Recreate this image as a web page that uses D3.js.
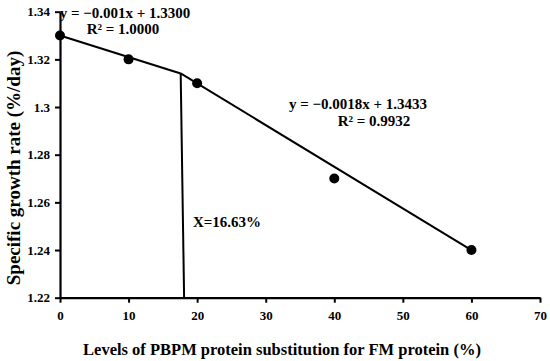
<!DOCTYPE html>
<html>
<head>
<meta charset="utf-8">
<script src="https://cdn.jsdelivr.net/npm/d3@7"></script>
<style>
  body { margin: 0; background: #fff; }
  text { font-family: "Liberation Serif", "Times New Roman", serif; font-weight: bold; fill: #000; }
</style>
</head>
<body>
<div id="chart"></div>
<script>
// measured points
var levels = [0, 10, 20, 40, 60];
var sgr = [1.33, 1.32, 1.31, 1.27, 1.24];

// broken-line fit
var seg1 = [[0, 1.33], [17.6, 1.3141]];
var seg2 = [[17.6, 1.3141], [60, 1.24]];
var breakLine = [[17.6, 1.3141], [18.1, 1.22]];

var xTicks = [0, 10, 20, 30, 40, 50, 60, 70];
var yTicks = [1.22, 1.24, 1.26, 1.28, 1.3, 1.32, 1.34];

var width = 550, height = 361;
var margin = {top: 11.7, right: 10, bottom: 63.3, left: 60};

var svg = d3.select("#chart").append("svg")
  .attr("width", width)
  .attr("height", height);

var x = d3.scaleLinear().domain([0, 70]).range([margin.left, 540]);
var y = d3.scaleLinear().domain([1.22, 1.34]).range([height - margin.bottom, margin.top]);

var fmtY = function(d) { return d3.format("")(+d.toFixed(2)); };

var xAxis = svg.append("g")
  .attr("transform", "translate(0," + y(1.22) + ")")
  .call(d3.axisBottom(x).tickValues(xTicks).tickSize(5).tickPadding(8).tickSizeOuter(0));

var yAxis = svg.append("g")
  .attr("transform", "translate(" + x(0) + ",0)")
  .call(d3.axisLeft(y).tickValues(yTicks).tickFormat(fmtY).tickSize(5).tickPadding(5).tickSizeOuter(0));

[xAxis, yAxis].forEach(function(a) {
  a.select(".domain").attr("stroke", "#000").attr("stroke-width", 2.2);
  a.selectAll(".tick line").attr("stroke", "#000").attr("stroke-width", 2);
  a.selectAll(".tick text")
    .attr("font-family", "Liberation Serif, Times New Roman, serif")
    .attr("font-weight", "bold")
    .attr("font-size", 13)
    .attr("fill", "#000");
});

var line = d3.line()
  .x(function(d) { return x(d[0]); })
  .y(function(d) { return y(d[1]); });

[seg1, seg2, breakLine].forEach(function(s) {
  svg.append("path")
    .datum(s)
    .attr("d", line)
    .attr("fill", "none")
    .attr("stroke", "#000")
    .attr("stroke-width", 2);
});

svg.append("g").selectAll("circle")
  .data(levels)
  .enter().append("circle")
  .attr("cx", function(d) { return x(d); })
  .attr("cy", function(d, i) { return y(sgr[i]); })
  .attr("r", 5)
  .attr("fill", "#000");

// annotations
var notes = [
  {t: "y = \u22120.001x + 1.3300", x: 125, y: 18},
  {t: "R\u00b2 = 1.0000", x: 123, y: 34},
  {t: "y = \u22120.0018x + 1.3433", x: 358, y: 109},
  {t: "R\u00b2 = 0.9932", x: 374, y: 126},
  {t: "X=16.63%", x: 227, y: 227}
];
svg.append("g").selectAll("text")
  .data(notes)
  .enter().append("text")
  .attr("x", function(d) { return d.x; })
  .attr("y", function(d) { return d.y; })
  .attr("text-anchor", "middle")
  .attr("font-size", 15)
  .text(function(d) { return d.t; });

svg.append("text")
  .attr("x", 282)
  .attr("y", 355)
  .attr("text-anchor", "middle")
  .attr("font-size", 16.5)
  .text("Levels of PBPM protein substitution for FM protein (%)");

svg.append("text")
  .attr("transform", "translate(20,168) rotate(-90)")
  .attr("text-anchor", "middle")
  .attr("font-size", 19)
  .text("Specific growth rate (%/day)");
</script>
</body>
</html>
